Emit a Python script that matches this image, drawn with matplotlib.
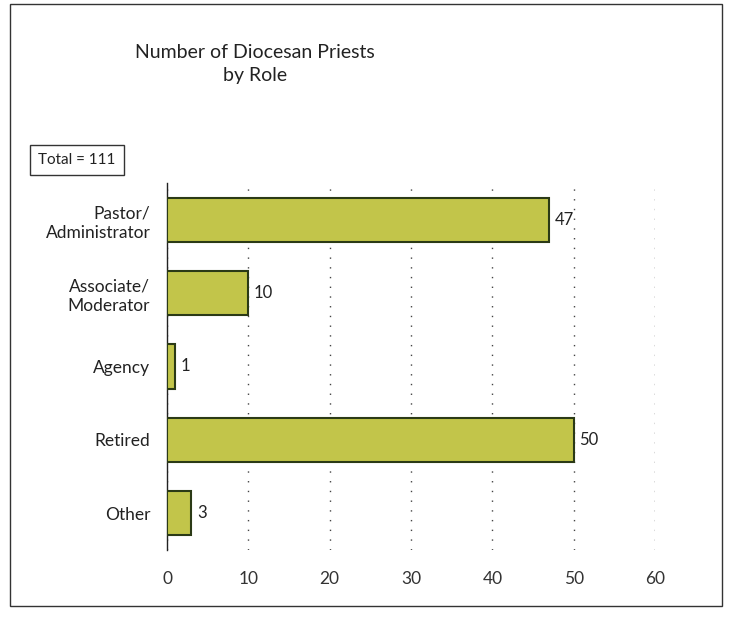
import numpy as np
import matplotlib
matplotlib.use('Agg')
from matplotlib import pyplot as plt
from matplotlib.patches import Rectangle

# data
roles = ['Pastor/\nAdministrator', 'Associate/\nModerator', 'Agency', 'Retired', 'Other']
counts = [47, 10, 1, 50, 3]
xticks = [0, 10, 20, 30, 40, 50, 60]
total_label = 'Total = 111'

plt.rcParams['font.family'] = ['Lato', 'DejaVu Sans']

fig = plt.figure(figsize=(7.3, 6.17), dpi=100)
ax = fig.add_axes([0.2288, 0.1086, 0.6685, 0.5948])

# outer frame around the whole chart
fig.patches.append(Rectangle((10/730, 1-606/617), 712/730, 602/617,
                             transform=fig.transFigure, fill=False,
                             edgecolor='#333333', linewidth=1.0))

ypos = np.arange(len(roles))
ax.barh(ypos, counts, height=0.6, color='#c2c54a', edgecolor='#2b3a16',
        linewidth=1.5, zorder=3)

for y, c in zip(ypos, counts):
    ax.text(c + 0.7, y, str(c), va='center', ha='left', fontsize=12, color='#222222')

ax.set_yticks(ypos)
ax.set_yticklabels(roles, fontsize=12.5, color='#222222', linespacing=1.3)
ax.set_ylim(len(roles) - 0.5, -0.5)
ax.set_xlim(0, 60)
ax.set_xticks(xticks)
ax.set_xticklabels([str(t) for t in xticks], fontsize=12.5, color='#333333')
ax.tick_params(axis='y', length=0, pad=12)
ax.tick_params(axis='x', length=0, pad=15)

ax.grid(axis='x', linestyle=(0, (1, 6)), color='#444444', linewidth=1.0, zorder=0)
for s in ['top', 'right', 'bottom']:
    ax.spines[s].set_visible(False)
ax.spines['left'].set_color('#222222')
ax.spines['left'].set_linewidth(1.0)

fig.text(255/730, 1-64/617, 'Number of Diocesan Priests\nby Role', ha='center',
         va='center', fontsize=14, color='#222222', linespacing=1.4)

fig.text(77/730, 1-160/617, total_label, ha='center', va='center', fontsize=11,
         color='#222222',
         bbox=dict(boxstyle='square,pad=0.55', facecolor='white',
                   edgecolor='#333333', linewidth=1.0))

plt.savefig('out.png', dpi=100)
